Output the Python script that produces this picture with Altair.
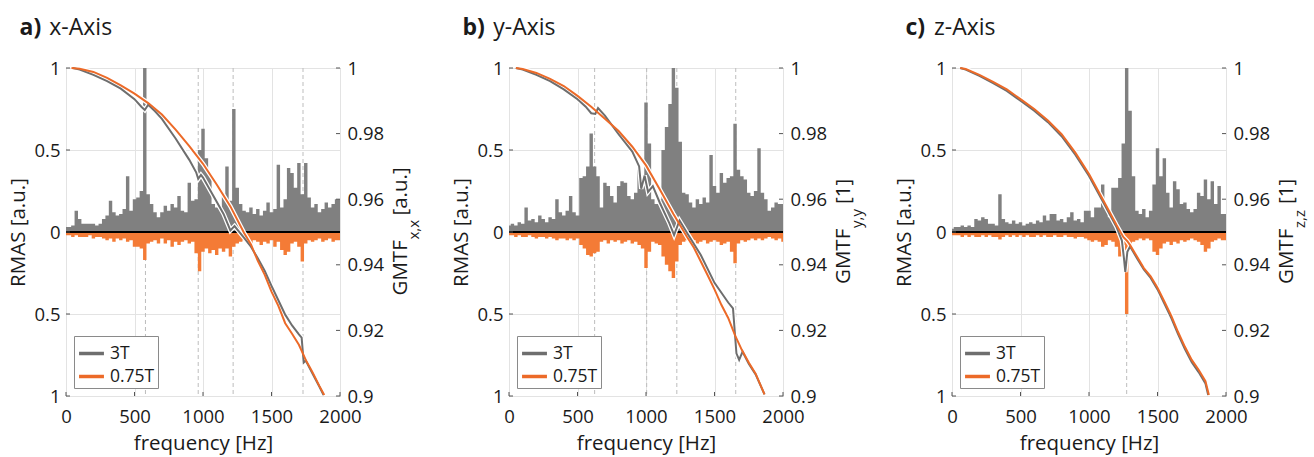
import altair as alt
import pandas as pd

# ---------------- data ----------------
FREQ = list(range(0, 2001, 25))  # spectral bins [Hz]

# RMAS spectra (3T upward, 0.75T drawn downward)
rmas_x_3t = [0.03,0.03,0.04,0.13,0.08,0.05,0.05,0.05,0.05,0.04,
             0.05,0.08,0.10,0.19,0.12,0.10,0.11,0.14,0.34,0.13,
             0.20,0.21,0.25,1.00,0.23,0.17,0.12,0.09,0.12,0.16,
             0.13,0.17,0.15,0.22,0.13,0.12,0.30,0.19,0.20,0.50,
             0.63,0.45,0.36,0.17,0.15,0.14,0.22,0.40,0.19,0.75,
             0.27,0.17,0.13,0.12,0.15,0.11,0.14,0.10,0.13,0.18,
             0.12,0.14,0.41,0.15,0.20,0.39,0.36,0.27,0.42,0.23,
             0.42,0.21,0.15,0.17,0.12,0.14,0.18,0.15,0.17,0.20,
             0.20]
rmas_x_075 = [0.02,0.02,0.03,0.02,0.03,0.03,0.03,0.02,0.04,0.03,
              0.03,0.04,0.05,0.04,0.06,0.04,0.05,0.04,0.06,0.05,
              0.09,0.09,0.10,0.17,0.07,0.06,0.05,0.07,0.04,0.07,
              0.05,0.09,0.06,0.08,0.06,0.05,0.07,0.06,0.13,0.24,
              0.12,0.10,0.13,0.11,0.14,0.10,0.12,0.10,0.15,0.09,
              0.07,0.06,0.05,0.06,0.07,0.05,0.06,0.08,0.06,0.07,
              0.05,0.09,0.06,0.11,0.14,0.12,0.07,0.06,0.09,0.18,
              0.07,0.05,0.06,0.05,0.04,0.06,0.05,0.04,0.06,0.05,
              0.05]
rmas_y_3t = [0.04,0.05,0.04,0.06,0.05,0.15,0.07,0.08,0.06,0.10,
             0.08,0.06,0.09,0.08,0.20,0.12,0.10,0.13,0.22,0.12,
             0.10,0.33,0.34,0.40,0.60,0.40,0.34,0.15,0.30,0.28,
             0.22,0.18,0.28,0.31,0.30,0.22,0.20,0.24,0.38,0.30,
             0.79,0.54,0.20,0.17,0.20,0.50,0.64,0.78,1.00,0.88,
             0.55,0.24,0.23,0.18,0.15,0.20,0.17,0.21,0.18,0.47,
             0.28,0.24,0.36,0.30,0.33,0.34,0.66,0.38,0.34,0.32,
             0.24,0.22,0.25,0.51,0.24,0.20,0.13,0.15,0.18,0.17,
             0.17]
rmas_y_075 = [0.02,0.02,0.03,0.02,0.03,0.03,0.02,0.03,0.04,0.03,
              0.03,0.04,0.03,0.04,0.05,0.04,0.04,0.05,0.04,0.05,
              0.04,0.08,0.10,0.14,0.15,0.13,0.12,0.06,0.05,0.07,
              0.05,0.06,0.05,0.07,0.06,0.05,0.07,0.06,0.08,0.10,
              0.22,0.12,0.06,0.07,0.08,0.15,0.20,0.24,0.28,0.18,
              0.08,0.06,0.05,0.06,0.05,0.07,0.06,0.05,0.07,0.06,
              0.05,0.06,0.08,0.07,0.06,0.12,0.19,0.07,0.05,0.06,
              0.05,0.04,0.05,0.04,0.05,0.04,0.03,0.04,0.05,0.04,
              0.06]
rmas_z_3t = [0.02,0.03,0.03,0.04,0.03,0.04,0.03,0.08,0.07,0.09,
             0.08,0.05,0.05,0.04,0.23,0.08,0.06,0.05,0.07,0.05,
             0.06,0.04,0.05,0.06,0.05,0.07,0.06,0.10,0.07,0.11,
             0.11,0.07,0.08,0.06,0.09,0.12,0.07,0.08,0.06,0.13,
             0.13,0.09,0.15,0.15,0.29,0.15,0.09,0.27,0.27,0.33,
             0.54,1.00,0.74,0.34,0.13,0.11,0.14,0.09,0.13,0.29,
             0.51,0.34,0.45,0.24,0.15,0.31,0.26,0.17,0.18,0.14,
             0.12,0.14,0.24,0.22,0.32,0.20,0.31,0.17,0.28,0.11,
             0.11]
rmas_z_075 = [0.02,0.02,0.02,0.03,0.02,0.03,0.02,0.03,0.03,0.02,
              0.03,0.02,0.03,0.03,0.045,0.03,0.02,0.03,0.02,0.03,
              0.02,0.03,0.02,0.03,0.03,0.02,0.03,0.02,0.03,0.03,
              0.02,0.03,0.03,0.02,0.03,0.03,0.04,0.03,0.03,0.04,
              0.05,0.06,0.05,0.06,0.09,0.08,0.05,0.06,0.09,0.15,
              0.08,0.50,0.07,0.06,0.05,0.04,0.05,0.04,0.05,0.12,
              0.14,0.10,0.07,0.06,0.08,0.06,0.07,0.05,0.06,0.05,
              0.04,0.05,0.06,0.08,0.12,0.10,0.06,0.05,0.04,0.05,
              0.05]

# GMTF curves (frequency, value)
gmtf_x_3t_f = [50,100,200,300,400,500,550,575,600,650,700,800,900,950,965,985,1000,1100,1150,1200,1230,
               1300,1350,1400,1450,1500,1550,1600,1650,1700,1720,1735,1750,1800,1850,1880]
gmtf_x_3t_v = [1.0,0.9995,0.9979,0.9960,0.9937,0.9905,0.9882,0.9872,0.9888,0.9868,0.9845,0.9785,0.9720,
               0.9682,0.9662,0.9674,0.9666,0.9592,0.9555,0.9505,0.9518,0.9482,0.9455,0.9420,0.9382,0.9336,
               0.9292,0.9248,0.9215,0.9188,0.9178,0.9102,0.9108,0.9068,0.9028,0.9003]
gmtf_x_075_f = [40,100,200,300,400,500,600,700,800,900,1000,1100,1200,1300,1350,1400,1450,1500,1550,1600,
                1650,1700,1750,1800,1850,1885]
gmtf_x_075_v = [1.0,0.9998,0.9988,0.9970,0.9947,0.9922,0.9893,0.9858,0.9812,0.9762,0.9708,0.9645,0.9578,
                0.9497,0.9462,0.9412,0.9370,0.9318,0.9275,0.9222,0.9190,0.9156,0.9110,0.9072,0.9030,0.9003]

gmtf_y_3t_f = [50,100,200,300,400,500,560,600,630,650,700,800,900,950,965,990,1015,1050,1100,1170,1205,
               1245,1300,1400,1500,1600,1635,1660,1680,1705,1750,1800,1865]
gmtf_y_3t_v = [1.0,0.9995,0.9979,0.9960,0.9935,0.9905,0.9882,0.9862,0.9860,0.9878,0.9855,0.9798,0.9745,
               0.9700,0.9632,0.9672,0.9622,0.9640,0.9590,0.9527,0.9491,0.9535,0.9497,0.9430,0.9345,0.9285,
               0.9267,0.9130,0.9110,0.9135,0.9098,0.9066,0.9005]
gmtf_y_075_f = [50,100,200,300,400,500,600,700,800,900,1000,1100,1200,1300,1350,1400,1450,1500,1550,1600,
                1650,1700,1750,1800,1865]
gmtf_y_075_v = [1.0,0.9997,0.9985,0.9967,0.9945,0.9915,0.9882,0.9845,0.9808,0.9760,0.9703,0.9630,0.9555,
                0.9485,0.9452,0.9410,0.9368,0.9325,0.9278,0.9238,0.9185,0.9140,0.9102,0.9068,0.9005]

gmtf_z_3t_f = [60,100,200,300,400,500,600,700,800,900,1000,1100,1200,1240,1255,1265,1280,1300,1350,1400,
               1450,1500,1550,1600,1650,1700,1750,1800,1850,1870]
gmtf_z_3t_v = [1.0,0.9995,0.9976,0.9954,0.9930,0.9900,0.9870,0.9835,0.9792,0.9736,0.9671,0.9594,0.9516,
               0.9474,0.9420,0.9378,0.9440,0.9456,0.9420,0.9386,0.9360,0.9325,0.9282,0.9238,0.9189,0.9143,
               0.9103,0.9073,0.9038,0.9003]
gmtf_z_075_f = [60,100,200,300,400,500,600,700,800,900,1000,1100,1200,1250,1280,1300,1350,1400,1450,1500,
                1550,1600,1650,1700,1750,1800,1850,1875]
gmtf_z_075_v = [1.0,0.9997,0.9979,0.9958,0.9935,0.9905,0.9875,0.9840,0.9798,0.9742,0.9677,0.9600,0.9522,
                0.9485,0.9472,0.9460,0.9425,0.9390,0.9365,0.9330,0.9288,0.9245,0.9195,0.9150,0.9110,0.9080,
                0.9045,0.9003]

# dashed marker frequencies
dash_x = [580, 965, 1220, 1730]
dash_y = [625, 1005, 1225, 1655]
dash_z = [1275]

SERIES = ["3T", "0.75T"]
X_TICKS = [0, 500, 1000, 1500, 2000]
RMAS_TICKS = [-1, -0.5, 0, 0.5, 1]
GMTF_TICKS = [0.9, 0.92, 0.94, 0.96, 0.98, 1.0]

# ---------------- style ----------------
FONT = "Open Sans"
GRAY_AREA = "#808080"
ORANGE_AREA = "#f47b36"
GRAY_LINE = "#6e6e6e"
ORANGE_LINE = "#ec6a28"
TXT = "#1a1a1a"
TICK = "#555555"
W, H = 274, 328
LAB = 18.5
TIT = 20.5


def make_panel(letter, axname, sub, unit, r3, r075, g3f, g3v, g0f, g0v, dashes, name_dx):
    x_axis = alt.Axis(values=X_TICKS, title="frequency [Hz]", grid=True, labelPadding=11,
                      titlePadding=8, format="d")
    xs = alt.Scale(domain=[0, 2000], nice=False, zero=False)

    def xenc():
        return alt.X("f:Q", scale=xs, axis=x_axis)

    l_axis = alt.Axis(values=RMAS_TICKS, title="RMAS [a.u.]", grid=True, orient="left",
                      labelExpr="format(abs(datum.value), '~g')", labelPadding=6, titlePadding=5)
    ls = alt.Scale(domain=[-1, 1], nice=False, zero=False)

    spec = pd.DataFrame({"f": FREQ, "r3": r3, "r075": r075})
    dash_df = pd.DataFrame({"f": dashes})
    xt_df = pd.DataFrame({"f": X_TICKS})
    lt_df = pd.DataFrame({"r": RMAS_TICKS})
    rt_df = pd.DataFrame({"g": GMTF_TICKS})

    rules = alt.Chart(dash_df).mark_rule(color="#bdbdbd", strokeDash=[4, 3], strokeWidth=1).encode(
        x=xenc())
    area3 = alt.Chart(spec).mark_area(interpolate="step", color=GRAY_AREA, clip=True).encode(
        x=xenc(), y=alt.Y("r3:Q", scale=ls, axis=l_axis), y2=alt.datum(0))
    area0 = alt.Chart(spec).transform_calculate(neg="-datum.r075").mark_area(
        interpolate="step", color=ORANGE_AREA, clip=True).encode(
        x=xenc(), y=alt.Y("neg:Q", scale=ls, axis=l_axis), y2=alt.datum(0))
    zero = alt.Chart(spec).mark_rule(color="black", strokeWidth=2.2).encode(
        y=alt.datum(0, scale=ls, axis=l_axis))
    xticks = alt.Chart(xt_df).mark_rule(color=TICK, strokeWidth=1).encode(
        x=xenc(), y=alt.value(H), y2=alt.value(H - 4))
    lticks = alt.Chart(lt_df).mark_rule(color=TICK, strokeWidth=1).encode(
        y=alt.Y("r:Q", scale=ls, axis=l_axis), x=alt.value(0), x2=alt.value(4))
    rmas_layer = alt.layer(rules, area3, area0, zero, xticks, lticks)

    gdf = pd.concat([
        pd.DataFrame({"f": g3f, "g": g3v, "series": "3T"}),
        pd.DataFrame({"f": g0f, "g": g0v, "series": "0.75T"}),
    ], ignore_index=True)
    r_axis = alt.Axis(values=GMTF_TICKS, orient="right", grid=False, format="~g", title=None,
                      labelPadding=7)
    rs = alt.Scale(domain=[0.9, 1.0], nice=False, zero=False)
    halo = alt.Chart(gdf).mark_line(color="white", strokeWidth=4.5).encode(
        x=xenc(), y=alt.Y("g:Q", scale=rs, axis=r_axis), detail="series:N")
    lines = alt.Chart(gdf).mark_line(strokeWidth=2).encode(
        x=xenc(), y=alt.Y("g:Q", scale=rs, axis=r_axis),
        color=alt.Color("series:N", scale=alt.Scale(domain=SERIES, range=[GRAY_LINE, ORANGE_LINE]),
                        legend=alt.Legend(title=None, orient="bottom-left")),
        order=alt.Order("series:N", sort="descending"))
    rticks = alt.Chart(rt_df).mark_rule(color=TICK, strokeWidth=1).encode(
        y=alt.Y("g:Q", scale=rs, axis=r_axis), x=alt.value(W - 4), x2=alt.value(W))
    gmtf_layer = alt.layer(halo, lines, rticks)

    one = pd.DataFrame({"k": [0]})
    t_letter = alt.Chart(one).mark_text(text=letter, font=FONT, fontSize=23, fontWeight="bold",
                                        align="left", baseline="alphabetic", color=TXT).encode(
        x=alt.value(-46.5), y=alt.value(-33))
    t_name = alt.Chart(one).mark_text(text=axname, font=FONT, fontSize=23, align="left",
                                      baseline="alphabetic", color=TXT).encode(
        x=alt.value(name_dx), y=alt.value(-33))

    # right axis title with subscript
    main_len = 55
    sub_len = 20
    unit_len = 47 if unit == "[a.u.]" else 24
    total = main_len + 1 + sub_len + 4 + unit_len
    y0 = H / 2 + total / 2
    g_main = alt.Chart(one).mark_text(text="GMTF", font=FONT, fontSize=TIT, angle=270, align="left",
                                      baseline="middle", color=TXT).encode(
        x=alt.value(W + 61), y=alt.value(y0))
    g_sub = alt.Chart(one).mark_text(text=sub, font=FONT, fontSize=15, angle=270, align="left",
                                     baseline="middle", color=TXT).encode(
        x=alt.value(W + 74), y=alt.value(y0 - main_len - 1))
    g_unit = alt.Chart(one).mark_text(text=unit, font=FONT, fontSize=TIT, angle=270, align="left",
                                      baseline="middle", color=TXT).encode(
        x=alt.value(W + 61), y=alt.value(y0 - main_len - 1 - sub_len - 4))

    return alt.layer(rmas_layer, gmtf_layer, t_letter, t_name, g_main, g_sub, g_unit).resolve_scale(
        y="independent").properties(width=W, height=H)


pa = make_panel("a)", "x-Axis", "x,x", "[a.u.]", rmas_x_3t, rmas_x_075,
                gmtf_x_3t_f, gmtf_x_3t_v, gmtf_x_075_f, gmtf_x_075_v, dash_x, -16.7)
pb = make_panel("b)", "y-Axis", "y,y", "[1]", rmas_y_3t, rmas_y_075,
                gmtf_y_3t_f, gmtf_y_3t_v, gmtf_y_075_f, gmtf_y_075_v, dash_y, -15.7)
pc = make_panel("c)", "z-Axis", "z,z", "[1]", rmas_z_3t, rmas_z_075,
                gmtf_z_3t_f, gmtf_z_3t_v, gmtf_z_075_f, gmtf_z_075_v, dash_z, -18)

chart = alt.hconcat(pa, pb, pc, spacing=169).resolve_scale(color="independent").properties(
    bounds="flush",
    padding={"left": 8, "top": 16, "right": 0, "bottom": 0},
    background="white",
).configure_view(
    stroke="#8a8a8a", strokeWidth=1
).configure_axis(
    labelFont=FONT, titleFont=FONT, labelFontSize=LAB, titleFontSize=TIT, titleFontWeight="normal",
    labelColor=TXT, titleColor=TXT, domain=False, ticks=False, tickSize=0,
    gridColor="#e3e3e3", gridWidth=1, labelFlush=False, labelOverlap=False
).configure_legend(
    labelFont=FONT, labelFontSize=17.5, labelColor=TXT, symbolType="stroke", symbolStrokeWidth=3.5,
    symbolSize=620, strokeColor="#8a8a8a", fillColor="white", padding=3, rowPadding=0,
    labelOffset=4, offset=8
)

chart.save("out.html", embed_options={"renderer": "svg", "actions": False})
